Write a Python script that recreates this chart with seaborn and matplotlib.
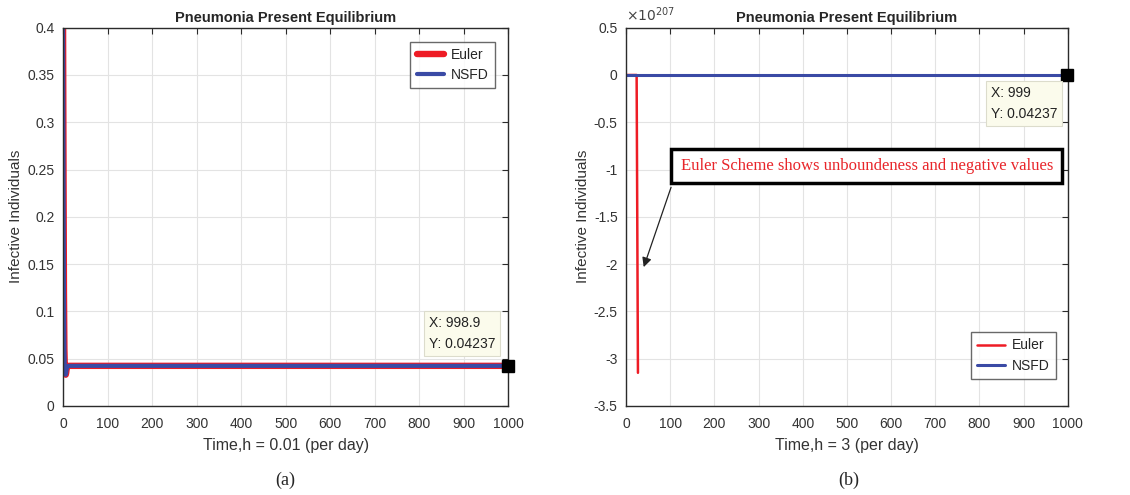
import numpy as np
import seaborn as sns
import matplotlib.pyplot as plt
from matplotlib.ticker import FuncFormatter

# Datos
t_a = [0, 1, 2, 3, 4, 5, 6, 7, 8, 10, 12, 15, 20, 100, 500, 1000]
euler_a = [0.4, 0.25, 0.12, 0.06, 0.04, 0.034, 0.033, 0.035, 0.039, 0.042,
           0.0423, 0.04237, 0.04237, 0.04237, 0.04237, 0.04237]
nsfd_a = [0.4, 0.25, 0.12, 0.06, 0.04, 0.034, 0.033, 0.035, 0.039, 0.042,
          0.0423, 0.04237, 0.04237, 0.04237, 0.04237, 0.04237]

t_euler_b = [0, 3, 6, 9, 12, 15, 18, 21, 24, 27]
euler_b = [0.4, 0.04, 0.04, 0.04, 0.04, 0.04, 0.04, 0.04, 0.04, -3.15e207]
t_nsfd_b = [0, 30, 100, 500, 999]
nsfd_b = [0.4, 0.04237, 0.04237, 0.04237, 0.04237]

tip_a = (998.9, 0.04237)
tip_b = (999, 0.04237)

x_ticks = list(range(0, 1001, 100))
y_ticks_a = [0, 0.05, 0.1, 0.15, 0.2, 0.25, 0.3, 0.35, 0.4]
y_ticks_b = [0.5, 0, -0.5, -1, -1.5, -2, -2.5, -3, -3.5]
scale_b = 1e207

sns.set_style('white')
plt.rcParams['font.family'] = ['Liberation Sans', 'DejaVu Sans']
plt.rcParams['axes.unicode_minus'] = False

fig = plt.figure(figsize=(11.3, 4.95), dpi=100)
ax_a = fig.add_axes([0.0558, 0.180, 0.394, 0.764])
ax_b = fig.add_axes([0.554, 0.180, 0.391, 0.764])


def estilo_matlab(ax):
    ax.grid(True, color='#e3e3e3', linewidth=0.8)
    ax.set_axisbelow(True)
    for s in ax.spines.values():
        s.set_color('#2b2b2b')
        s.set_linewidth(1.0)
    ax.tick_params(direction='in', top=True, right=True, length=4,
                   labelsize=10, colors='#2b2b2b', labelcolor='#333333')
    ax.tick_params(axis='x', pad=8)
    ax.tick_params(axis='y', pad=6)
    ax.set_xlim(0, 1000)
    ax.set_xticks(x_ticks)
    ax.set_title('Pneumonia Present Equilibrium', fontsize=10.5,
                 fontweight='bold', pad=4)
    ax.set_ylabel('Infective Individuals', fontsize=11, color='#333333', labelpad=3)


def datatip(ax, xy, label, tx, ty):
    ax.plot([xy[0]], [xy[1]], marker='s', color='black', markersize=8,
            clip_on=False, zorder=6)
    ax.text(tx, ty, label, fontsize=10, color='#222222', ha='left', va='top',
            linespacing=1.6, zorder=7,
            bbox=dict(boxstyle='square,pad=0.35', fc='#fbfbec', ec='#dcdccc', lw=0.8))


def leyenda(ax, loc, anchor):
    leg = ax.legend(loc=loc, bbox_to_anchor=anchor, fontsize=10, frameon=True,
                    fancybox=False, handlelength=2.0, handletextpad=0.5,
                    borderaxespad=0, borderpad=0.45, labelspacing=0.45)
    leg.get_frame().set_edgecolor('#444444')
    leg.get_frame().set_linewidth(1.0)


# (a)
sns.lineplot(x=t_a, y=euler_a, ax=ax_a, color='#ee1c25', linewidth=4.6,
             label='Euler', sort=False)
sns.lineplot(x=t_a, y=nsfd_a, ax=ax_a, color='#3a4aa5', linewidth=3.0,
             label='NSFD', sort=False)
estilo_matlab(ax_a)
ax_a.set_ylim(0, 0.4)
ax_a.set_yticks(y_ticks_a)
ax_a.yaxis.set_major_formatter(FuncFormatter(lambda v, p: f'{v:g}'))
ax_a.set_xlabel('Time,h = 0.01 (per day)', fontsize=11.5, color='#333333', labelpad=5)
leyenda(ax_a, 'upper right', (1 - 13 / 445, 1 - 14 / 378))
datatip(ax_a, tip_a, 'X: 998.9\nY: 0.04237', 822, 0.095)

# (b)
sns.lineplot(x=t_euler_b, y=euler_b, ax=ax_b, color='#ee1c25', linewidth=1.8,
             label='Euler', sort=False)
sns.lineplot(x=t_nsfd_b, y=nsfd_b, ax=ax_b, color='#3a4aa5', linewidth=2.2,
             label='NSFD', sort=False)
estilo_matlab(ax_b)
ax_b.set_ylim(-3.5 * scale_b, 0.5 * scale_b)
ax_b.set_yticks([v * scale_b for v in y_ticks_b])
ax_b.yaxis.set_major_formatter(FuncFormatter(lambda v, p: f'{v / scale_b:g}'))
ax_b.text(0.0, 1.01, r'$\times10^{207}$', transform=ax_b.transAxes,
          fontsize=10, color='#444444', ha='left', va='bottom')
ax_b.set_xlabel('Time,h = 3 (per day)', fontsize=11.5, color='#333333', labelpad=5)
leyenda(ax_b, 'lower right', (1 - 12 / 442, 27 / 378))
datatip(ax_b, tip_b, 'X: 999\nY: 0.04237', 826, -0.12 * scale_b)

ax_b.text(545, -0.96 * scale_b, 'Euler Scheme shows unboundeness and negative values',
          family=['Liberation Serif', 'DejaVu Serif'], fontsize=12, color='#e8252a',
          ha='center', va='center', zorder=8,
          bbox=dict(boxstyle='square,pad=0.55', fc='white', ec='black', lw=2.5))
ax_b.annotate('', xy=(38, -2.06 * scale_b), xytext=(104, -1.16 * scale_b),
              arrowprops=dict(arrowstyle='-|>', color='#222222', lw=0.9,
                              mutation_scale=14), zorder=8)

# Etiquetas (a) y (b)
fig.text(0.252, 0.03, '(a)', family=['Liberation Serif', 'DejaVu Serif'],
         fontsize=13, ha='center', va='center')
fig.text(0.751, 0.03, '(b)', family=['Liberation Serif', 'DejaVu Serif'],
         fontsize=13, ha='center', va='center')

plt.savefig('out.png', dpi=100)
plt.close()
